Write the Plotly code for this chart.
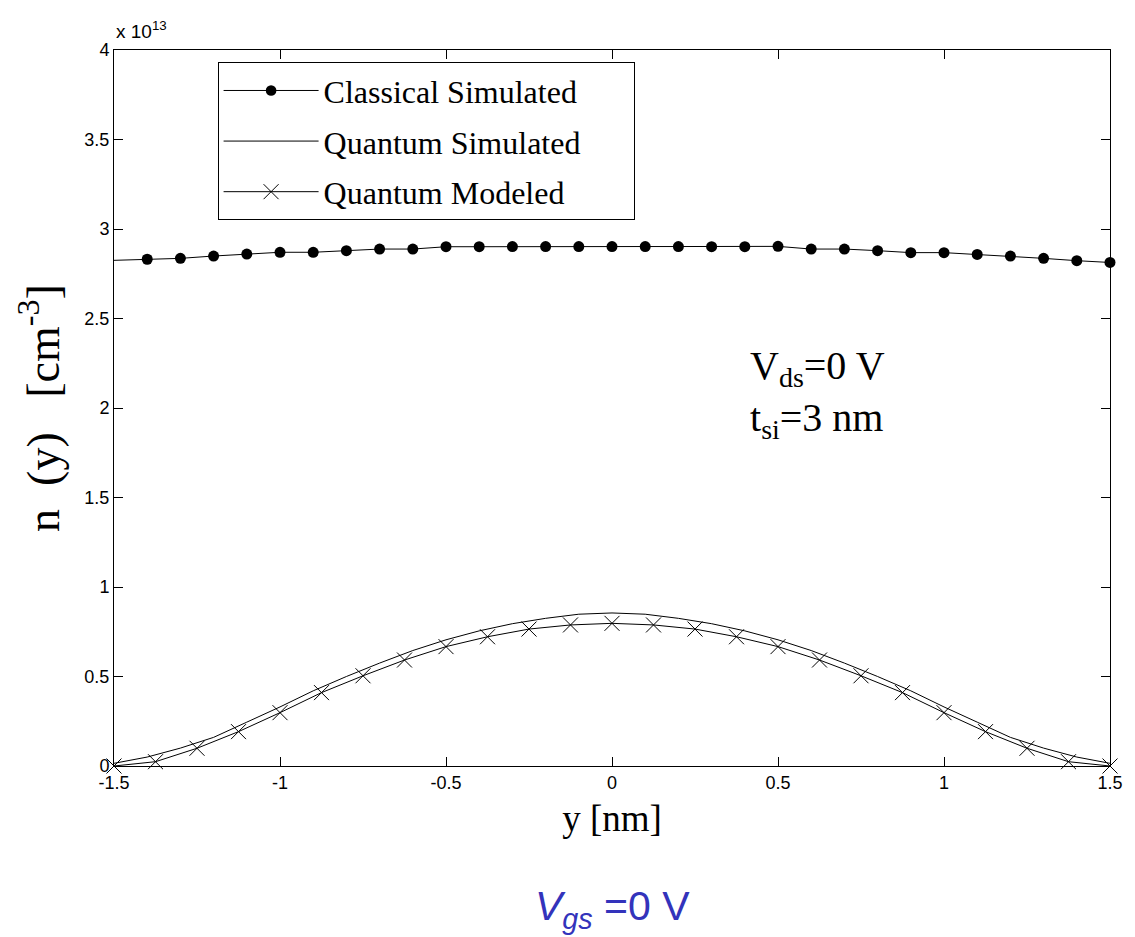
import plotly.graph_objects as go

# Classical simulated (units of 1e13 cm^-3)
y_cls = [-1.5, -1.4, -1.3, -1.2, -1.1, -1.0, -0.9, -0.8, -0.7, -0.6, -0.5, -0.4, -0.3, -0.2, -0.1, 0.0,
         0.1, 0.2, 0.3, 0.4, 0.5, 0.6, 0.7, 0.8, 0.9, 1.0, 1.1, 1.2, 1.3, 1.4, 1.5]
n_cls = [2.825, 2.831, 2.836, 2.849, 2.860, 2.870, 2.870, 2.879, 2.888, 2.888, 2.901, 2.901, 2.902, 2.902,
         2.902, 2.902, 2.902, 2.902, 2.901, 2.901, 2.903, 2.888, 2.888, 2.879, 2.868, 2.868, 2.858,
         2.849, 2.836, 2.823, 2.813]

# Quantum simulated
y_qs = [-1.5, -1.4, -1.3, -1.2, -1.1, -1.0, -0.9, -0.8, -0.7, -0.6, -0.5, -0.4, -0.3, -0.2, -0.1, 0.0,
        0.1, 0.2, 0.3, 0.4, 0.5, 0.6, 0.7, 0.8, 0.9, 1.0, 1.1, 1.2, 1.3, 1.4, 1.5]
n_qs = [0.015, 0.05, 0.10, 0.16, 0.245, 0.33, 0.42, 0.50, 0.575, 0.645, 0.705, 0.755, 0.795, 0.825,
        0.848, 0.855, 0.848, 0.825, 0.795, 0.755, 0.705, 0.645, 0.575, 0.50, 0.42, 0.33, 0.245, 0.16,
        0.10, 0.05, 0.015]

# Quantum modeled
y_qm = [-1.5, -1.375, -1.25, -1.125, -1.0, -0.875, -0.75, -0.625, -0.5, -0.375, -0.25, -0.125, 0.0,
        0.125, 0.25, 0.375, 0.5, 0.625, 0.75, 0.875, 1.0, 1.125, 1.25, 1.375, 1.5]
n_qm = [0.0, 0.024, 0.099, 0.192, 0.298, 0.41, 0.504, 0.592, 0.667, 0.722, 0.765, 0.788, 0.797,
        0.788, 0.765, 0.722, 0.667, 0.592, 0.504, 0.41, 0.298, 0.192, 0.099, 0.024, 0.0]

x_ticks = [-1.5, -1, -0.5, 0, 0.5, 1, 1.5]
x_ticktext = ["-1.5", "-1", "-0.5", "0", "0.5", "1", "1.5"]
y_ticks = [0, 0.5, 1, 1.5, 2, 2.5, 3, 3.5, 4]
y_ticktext = ["0", "0.5", "1", "1.5", "2", "2.5", "3", "3.5", "4"]

cls_sizes = [0] + [11] * (len(y_cls) - 1)

SERIF = "Times New Roman, Liberation Serif, serif"
SANS = "Arial, Liberation Sans, sans-serif"
PAD = "&nbsp;" * 6

fig = go.Figure()
fig.add_trace(go.Scatter(x=y_cls, y=n_cls, mode="lines+markers", name="Classical Simulated" + PAD,
                         legendgroup="a",
                         line=dict(color="black", width=1),
                         marker=dict(symbol="circle", size=cls_sizes, color="#000000",
                                     line=dict(width=0), opacity=1),
                         cliponaxis=False))
fig.add_trace(go.Scatter(x=y_qs, y=n_qs, mode="lines", name="Quantum Simulated" + PAD,
                         legendgroup="b",
                         line=dict(color="black", width=1)))
fig.add_trace(go.Scatter(x=y_qm, y=n_qm, mode="lines+markers", name="Quantum Modeled" + PAD,
                         legendgroup="c",
                         line=dict(color="black", width=1),
                         marker=dict(symbol="x-thin", size=15, color="black",
                                     line=dict(color="black", width=1)),
                         cliponaxis=False))

axis_common = dict(showgrid=False, zeroline=False, showline=True, linecolor="black", linewidth=1,
                   mirror="ticks", ticks="inside", ticklen=9, tickcolor="black",
                   tickfont=dict(family=SANS, size=18, color="black"))

fig.update_layout(
    width=1135, height=937,
    margin=dict(l=114, r=20, t=50, b=171),
    plot_bgcolor="white", paper_bgcolor="white",
    xaxis=dict(range=[-1.5, 1.5], tickvals=x_ticks, ticktext=x_ticktext,
               title=dict(text="y [nm]", font=dict(family=SERIF, size=37, color="black"),
                          standoff=13),
               **axis_common),
    yaxis=dict(range=[0, 4], tickvals=y_ticks, ticktext=y_ticktext,
               title=dict(text="n&nbsp; (y)&nbsp;&nbsp; [cm<sup>-3</sup>]",
                          font=dict(family=SERIF, size=46, color="black"),
                          standoff=10),
               **axis_common),
    legend=dict(x=0.104, y=0.983, xanchor="left", yanchor="top",
                bgcolor="white", bordercolor="black", borderwidth=1,
                font=dict(family=SERIF, size=32, color="black"),
                tracegroupgap=6, itemwidth=95),
    showlegend=True,
)

fig.add_annotation(text="x 10<sup>13</sup>", xref="paper", yref="paper", x=0.0, y=1.0,
                   xanchor="left", yanchor="bottom", showarrow=False, yshift=6,
                   font=dict(family=SANS, size=19, color="black"))
fig.add_annotation(text="V<sub>ds</sub>=0 V<br>t<sub>si</sub>=3 nm", xref="paper", yref="paper",
                   x=0.637, y=0.52, xanchor="left", yanchor="middle", showarrow=False, align="left",
                   font=dict(family=SERIF, size=40, color="black"))
fig.add_annotation(text="<i>V<sub>gs</sub></i> =0 V", xref="paper", yref="paper",
                   x=0.5, y=-0.2, xanchor="center", yanchor="middle", showarrow=False,
                   font=dict(family=SANS, size=41, color="#3333bb"))

fig.write_html("out.html")
